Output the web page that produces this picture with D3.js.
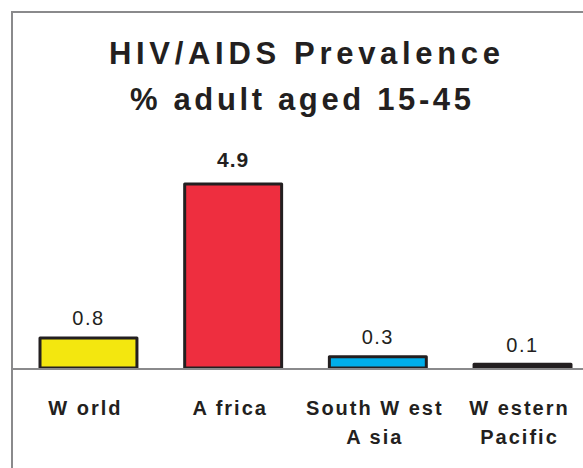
<!DOCTYPE html>
<html>
<head>
<meta charset="utf-8">
<script src="https://cdn.jsdelivr.net/npm/d3@7"></script>
<style>
  body { margin: 0; background: #fff; }
  text { font-family: "Liberation Sans", Arial, sans-serif; fill: #231f20; }
</style>
</head>
<body>
<svg id="viz"></svg>
<script>
const regions = ["World", "Africa", "South West Asia", "Western Pacific"];
const regionLines = [["W orld"], ["A frica"], ["South W est", "A sia"], ["W estern", "Pacific"]];
const prevalence = [0.8, 4.9, 0.3, 0.1];
const barColors = ["#f3e70f", "#ee2e3f", "#00aeea", "#231f20"];
const titleLines = ["HIV/AIDS Prevalence", "% adult aged 15-45"];

const chart = {
    init() {
        const data = regions.map((r, i) => ({ region: r, lines: regionLines[i], value: prevalence[i], color: barColors[i] }));
        this.draw(data);
    },

    draw(data) {
        const width = 583;
        const height = 468;
        const baseY = 368;

        const svg = d3.select("#viz").attr("width", width).attr("height", height);

        const x = d3.scaleBand().domain(regions).range([40, 571]).paddingInner(0.33).paddingOuter(0);
        const y = d3.scaleLinear().domain([0, 4.9]).range([baseY, 184]);

        // frame
        svg.append("line").attr("x1", 12).attr("x2", 12).attr("y1", 11).attr("y2", height).attr("stroke", "#8a8a8c").attr("stroke-width", 2);
        svg.append("line").attr("x1", 11).attr("x2", width).attr("y1", 12).attr("y2", 12).attr("stroke", "#8a8a8c").attr("stroke-width", 2);

        // title, stretched to the width it has in the original
        const titleX = [109, 130];
        const titleW = [391, 341];
        svg.selectAll(".title").data(titleLines).enter().append("text")
            .attr("class", "title")
            .attr("x", (d, i) => titleX[i]).attr("y", (d, i) => 64 + i * 46)
            .attr("textLength", (d, i) => titleW[i]).attr("lengthAdjust", "spacing")
            .style("font-size", "31px").style("font-weight", "bold")
            .text(d => d);

        // bars
        svg.selectAll("rect").data(data).enter().append("rect")
            .attr("x", d => x(d.region)).attr("y", d => y(d.value))
            .attr("width", x.bandwidth()).attr("height", d => baseY - y(d.value))
            .attr("fill", d => d.color).attr("stroke", "#231f20").attr("stroke-width", 3)
            .attr("stroke-linejoin", "round");

        // baseline
        svg.append("line").attr("x1", 13).attr("x2", width).attr("y1", baseY + 1).attr("y2", baseY + 1).attr("stroke", "#8a8a8c").attr("stroke-width", 2);

        // value labels
        svg.selectAll(".val").data(data).enter().append("text")
            .attr("class", "val")
            .attr("x", d => x(d.region) + x.bandwidth() / 2)
            .attr("y", d => y(d.value) - (d.value > 4 ? 17 : d.value < 0.2 ? 12 : 13))
            .attr("text-anchor", "middle")
            .style("font-size", d => d.value > 4 ? "21px" : "20px")
            .style("font-weight", d => d.value > 4 ? "bold" : "normal")
            .style("letter-spacing", d => d.value > 4 ? "1px" : "1.5px")
            .text(d => d.value.toFixed(1));

        // category labels
        const cats = svg.selectAll(".cat").data(data).enter().append("text")
            .attr("class", "cat")
            .attr("text-anchor", "middle")
            .style("font-size", "20px").style("font-weight", "bold").style("letter-spacing", "2px");
        cats.selectAll("tspan").data(d => d.lines.map(l => ({ l, cx: x(d.region) + x.bandwidth() / 2 - 3 }))).enter().append("tspan")
            .attr("x", d => d.cx).attr("y", (d, i) => 415 + i * 29)
            .text(d => d.l);
    }
};

window.addEventListener("DOMContentLoaded", () => chart.init());
</script>
</body>
</html>
